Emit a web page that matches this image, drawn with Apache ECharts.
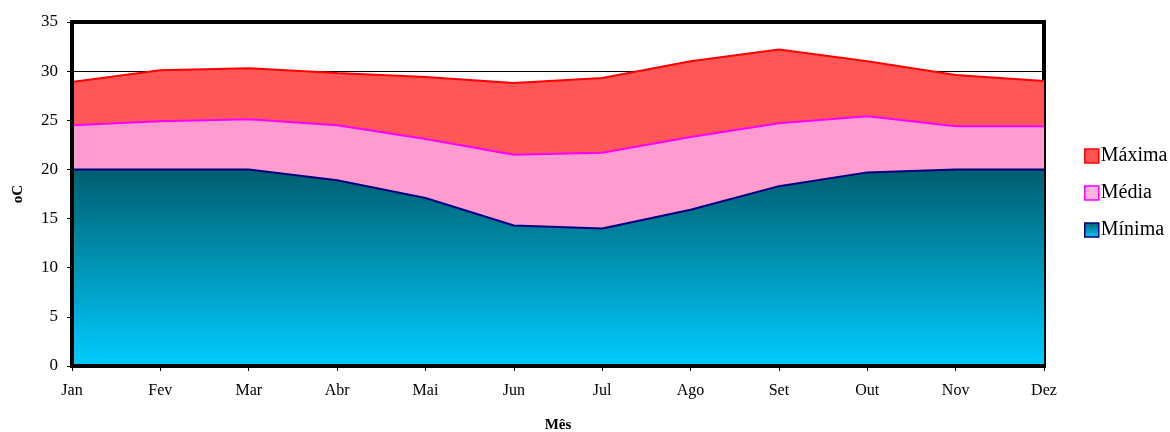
<!DOCTYPE html>
<html>
<head>
<meta charset="utf-8">
<script src="https://cdn.jsdelivr.net/npm/echarts@6/dist/echarts.min.js"></script>
<style>
  html, body { margin: 0; padding: 0; background: #fff; }
  #main { width: 1170px; height: 432px; }
</style>
</head>
<body>
<div id="main"></div>
<script>
var meses = ['Jan', 'Fev', 'Mar', 'Abr', 'Mai', 'Jun', 'Jul', 'Ago', 'Set', 'Out', 'Nov', 'Dez'];
var maxima = [28.9, 30.1, 30.3, 29.8, 29.4, 28.8, 29.3, 31.0, 32.2, 31.0, 29.6, 29.0];
var media = [24.5, 24.9, 25.1, 24.5, 23.1, 21.5, 21.7, 23.3, 24.7, 25.4, 24.4, 24.4];
var minima = [20.0, 20.0, 20.0, 18.9, 17.1, 14.3, 14.0, 15.9, 18.3, 19.7, 20.0, 20.0];

var fonte = 'Liberation Serif';
var gradMin = new echarts.graphic.LinearGradient(0, 0, 0, 1, [
    { offset: 0, color: '#005e70' },
    { offset: 1, color: '#00ccff' }
]);

var myChart = echarts.init(document.getElementById('main'));
option = {
    animation: false,
    textStyle: { fontFamily: fonte },
    grid: {
        left: 72, right: 126, top: 22, bottom: 66,
        outerBoundsMode: 'none',
        containLabel: false,
        show: true, borderColor: '#000', borderWidth: 4
    },
    legend: {
        orient: 'vertical',
        left: 1079,
        top: 141,
        itemGap: 17,
        itemWidth: 14,
        itemHeight: 14,
        textStyle: { fontFamily: fonte, fontSize: 20, color: '#000', padding: [0, 0, 0, -3] },
        data: [
            { name: 'Máxima', icon: 'rect', itemStyle: { color: '#ff5555', borderColor: '#ff0000', borderWidth: 1.5 } },
            { name: 'Média', icon: 'rect', itemStyle: { color: '#ffb3d9', borderColor: '#ff00ff', borderWidth: 1.5 } },
            { name: 'Mínima', icon: 'rect', itemStyle: { color: gradMin, borderColor: '#000080', borderWidth: 1.5 } }
        ]
    },
    xAxis: [
        {
            // eixo de fundo (sem desenho)
            type: 'category',
            data: meses,
            boundaryGap: false,
            axisLine: { show: false },
            axisTick: { show: false },
            axisLabel: { show: false },
            z: 0
        },
        {
            // eixo por cima das áreas
            type: 'category',
            data: meses,
            boundaryGap: false,
            position: 'bottom',
            offset: 0,
            name: 'Mês',
            nameLocation: 'middle',
            nameGap: 52,
            nameTextStyle: { fontFamily: fonte, fontSize: 15, fontWeight: 'bold', color: '#000' },
            axisLine: { lineStyle: { color: '#000', width: 4 } },
            axisTick: { show: true, length: 5, alignWithLabel: true, lineStyle: { color: '#000', width: 1 } },
            axisLabel: { fontFamily: fonte, fontSize: 16, color: '#000', margin: 17 },
            z: 10
        }
    ],
    yAxis: [
        {
            type: 'value',
            min: 0, max: 35, interval: 5,
            axisLine: { show: false },
            axisTick: { show: false },
            axisLabel: { show: false },
            splitLine: { show: true, lineStyle: { color: '#000', width: 1 } },
            z: 0
        },
        {
            type: 'value',
            min: 0, max: 35, interval: 5,
            position: 'left',
            offset: 0,
            name: 'oC',
            nameLocation: 'middle',
            nameGap: 46,
            nameTextStyle: { fontFamily: fonte, fontSize: 15, fontWeight: 'bold', color: '#000' },
            axisLine: { show: true, lineStyle: { color: '#000', width: 4 } },
            axisTick: { show: true, length: 5, lineStyle: { color: '#000', width: 1 } },
            axisLabel: { fontFamily: fonte, fontSize: 17, color: '#000', margin: 14 },
            splitLine: { show: false },
            z: 10
        }
    ],
    series: [
        {
            name: 'Máxima', type: 'line', data: maxima, showSymbol: false, symbol: 'none',
            lineStyle: { color: '#ff0000', width: 2 },
            itemStyle: { color: '#ff5555' },
            areaStyle: { color: '#ff5757', opacity: 1 },
            z: 2
        },
        {
            name: 'Média', type: 'line', data: media, showSymbol: false, symbol: 'none',
            lineStyle: { color: '#ff00ff', width: 2 },
            itemStyle: { color: '#ff9ccf' },
            areaStyle: { color: '#ff9ccf', opacity: 1 },
            z: 3
        },
        {
            name: 'Mínima', type: 'line', data: minima, showSymbol: false, symbol: 'none',
            lineStyle: { color: '#000080', width: 2 },
            itemStyle: { color: '#00aacc' },
            areaStyle: { color: gradMin, opacity: 1 },
            z: 4
        }
    ]
};
myChart.setOption(option);
</script>
</body>
</html>
